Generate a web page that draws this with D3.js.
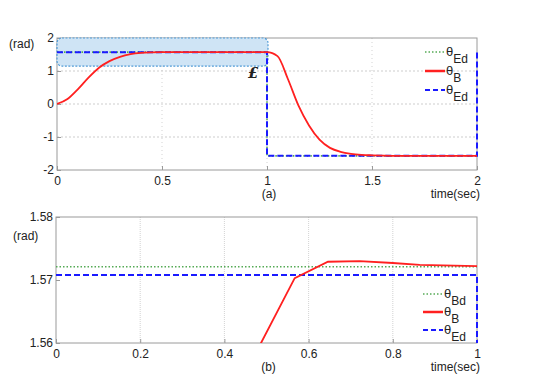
<!DOCTYPE html>
<html><head><meta charset="utf-8">
<script src="https://cdn.jsdelivr.net/npm/d3@7"></script>
<style>
body{margin:0;background:#fff;}
text{font-family:"Liberation Sans",Arial,sans-serif;fill:#222;}
</style></head>
<body><svg id="c" width="541" height="380"></svg>
<script>
// ---- data: panel (a)
const timeA = [0,0.05,0.1,0.15,0.2,0.25,0.3,0.35,0.4,0.45,0.5,0.6,0.8,1.0,1.05,1.1,1.15,1.2,1.25,1.3,1.35,1.4,1.45,1.5,1.6,1.8,2.0];
const thetaB_A = [0,0.15,0.45,0.8,1.1,1.3,1.43,1.51,1.55,1.565,1.57,1.571,1.571,1.571,1.45,0.75,-0.05,-0.65,-1.08,-1.33,-1.45,-1.51,-1.54,-1.555,-1.57,-1.571,-1.571];
const timeEdA = [0,1,1,2,2];
const thetaEd_A = [1.5708,1.5708,-1.5708,-1.5708,1.5708];
const timeBdA = [0,1,1,2];
const thetaBd_A = [1.5708,1.5708,-1.5708,-1.5708];
const ticksXA = [0,0.5,1,1.5,2];
const ticksYA = [-2,-1,0,1,2];
const legendA = ["Ed","B","Ed"];
// ---- data: panel (b)
const timeB = [0.45,0.487,0.567,0.646,0.721,0.8,0.864,1.0];
const thetaB_B = [1.5545,1.56,1.5703,1.5729,1.5730,1.5727,1.5724,1.5722];
const timeEdB = [0,1,1];
const thetaEd_B = [1.5708,1.5708,1.55];
const timeBdB = [0,1];
const thetaBd_B = [1.5721,1.5721];
const ticksXB = [0,0.2,0.4,0.6,0.8,1];
const ticksYB = [1.56,1.57,1.58];
const legendB = ["Bd","B","Ed"];

const svg = d3.select("#c");
const RED="#ff2020", BLUE="#1a1aff", GREEN="#55aa55";

function panel(cfg){
  const g = svg.append("g");
  const x = d3.scaleLinear().domain(cfg.xd).range([cfg.l,cfg.r]);
  const y = d3.scaleLinear().domain(cfg.yd).range([cfg.b,cfg.t]);
  const id = "clip_"+cfg.key;
  svg.append("defs").append("clipPath").attr("id",id).append("rect")
    .attr("x",cfg.l).attr("y",cfg.t).attr("width",cfg.r-cfg.l+1.5).attr("height",cfg.b-cfg.t);
  // grid
  g.selectAll(".gx").data(cfg.gx).enter().append("line")
    .attr("x1",d=>x(d)).attr("x2",d=>x(d)).attr("y1",cfg.t).attr("y2",cfg.b)
    .attr("stroke","#c8c8c8").attr("stroke-width",0.8).attr("stroke-dasharray",cfg.gdash);
  g.selectAll(".gy").data(cfg.gy).enter().append("line")
    .attr("y1",d=>y(d)).attr("y2",d=>y(d)).attr("x1",cfg.l).attr("x2",cfg.r)
    .attr("stroke","#c0c0c0").attr("stroke-width",0.8).attr("stroke-dasharray","2,2");
  // box
  g.append("rect").attr("x",cfg.l).attr("y",cfg.t).attr("width",cfg.r-cfg.l).attr("height",cfg.b-cfg.t)
    .attr("fill","none").attr("stroke","#9a9a9a").attr("stroke-width",1);
  // axes
  const ax = d3.axisBottom(x).tickValues(cfg.tx).tickSize(-4).tickPadding(6).tickFormat(d=>String(d));
  const ay = d3.axisLeft(y).tickValues(cfg.ty).tickSize(-4).tickPadding(3).tickFormat(d=>String(d));
  const gax = g.append("g").attr("transform",`translate(0,${cfg.b})`).call(ax);
  const gay = g.append("g").attr("transform",`translate(${cfg.l},0)`).call(ay);
  [gax,gay].forEach(a=>{a.select(".domain").remove();
    a.selectAll("line").attr("stroke","#9a9a9a");
    a.selectAll("text").style("font-size","12px").attr("fill","#222");});
  if(cfg.extra) cfg.extra(g,x,y);
  const lg = g.append("g").attr("clip-path",`url(#${id})`);
  const line = (cv)=>d3.line().x(d=>x(d[0])).y(d=>y(d[1])).curve(cv||d3.curveLinear);
  lg.append("path").datum(d3.zip(cfg.bdT,cfg.bdV)).attr("d",line())
    .attr("fill","none").attr("stroke",GREEN).attr("stroke-width",1.6).attr("stroke-dasharray","1.5,2");
  lg.append("path").datum(d3.zip(cfg.edT,cfg.edV)).attr("d",line())
    .attr("fill","none").attr("stroke",BLUE).attr("stroke-width",2).attr("stroke-dasharray","6,3");
  lg.append("path").datum(d3.zip(cfg.bT,cfg.bV)).attr("d",line(cfg.curve))
    .attr("fill","none").attr("stroke",RED).attr("stroke-width",1.8);
  // legend
  const styles=[{c:GREEN,w:1.6,d:"1.5,2"},{c:RED,w:2.5,d:null},{c:BLUE,w:2,d:"5,3"}];
  cfg.legend.forEach((s,i)=>{
    const yy = cfg.legY[i];
    g.append("line").attr("x1",cfg.legX).attr("x2",cfg.legX+20).attr("y1",yy).attr("y2",yy)
      .attr("stroke",styles[i].c).attr("stroke-width",styles[i].w).attr("stroke-dasharray",styles[i].d);
    const t = g.append("text").attr("x",cfg.legX+21).attr("y",yy+4).style("font-size","13px");
    t.append("tspan").text("θ");
    t.append("tspan").attr("dy",7).style("font-size","12px").text(s);
  });
  // labels
  g.append("text").attr("x",cfg.radX).attr("y",cfg.radY).style("font-size","12px").text("(rad)");
  g.append("text").attr("x",(cfg.l+cfg.r)/2+2).attr("y",cfg.b+28).attr("text-anchor","middle").style("font-size","12px").text(cfg.name);
  g.append("text").attr("x",cfg.r+3).attr("y",cfg.b+28).attr("text-anchor","end").style("font-size","12px").text("time(sec)");
}

panel({key:"a",name:"(a)",l:57,r:477,t:38,b:170,xd:[0,2],yd:[-2,2],tx:ticksXA,ty:ticksYA,
  gx:[0.5,1,1.5],gy:[-1,0,1],gdash:"1,3",
  bT:timeA,bV:thetaB_A,curve:d3.curveMonotoneX,edT:timeEdA,edV:thetaEd_A,bdT:timeBdA,bdV:thetaBd_A,
  legend:legendA,legX:425,legY:[52,71,90],radX:9,radY:48,
  extra:(g,x,y)=>{
    g.append("rect").attr("x",x(0)).attr("y",y(2)).attr("width",x(1)-x(0)+1).attr("height",y(1.15)-y(2))
      .attr("rx",5).attr("fill","#cfe4f5").attr("stroke","#4f9ad6").attr("stroke-width",1.2).attr("stroke-dasharray","2,1.5");
    g.append("text").attr("x",x(0.91)).attr("y",y(0.8)).style("font-family","'DejaVu Serif',serif")
      .style("font-size","15px").style("font-weight","bold").style("font-style","italic").text("£");
  }});
panel({key:"b",name:"(b)",l:56,r:477,t:217,b:343,xd:[0,1],yd:[1.56,1.58],tx:ticksXB,ty:ticksYB,
  gx:[0.2,0.4,0.6,0.8],gy:[],gdash:"1,1",
  bT:timeB,bV:thetaB_B,curve:null,edT:timeEdB,edV:thetaEd_B,bdT:timeBdB,bdV:thetaBd_B,
  legend:legendB,legX:423,legY:[294,312,330],radX:13,radY:240});
</script></body></html>
